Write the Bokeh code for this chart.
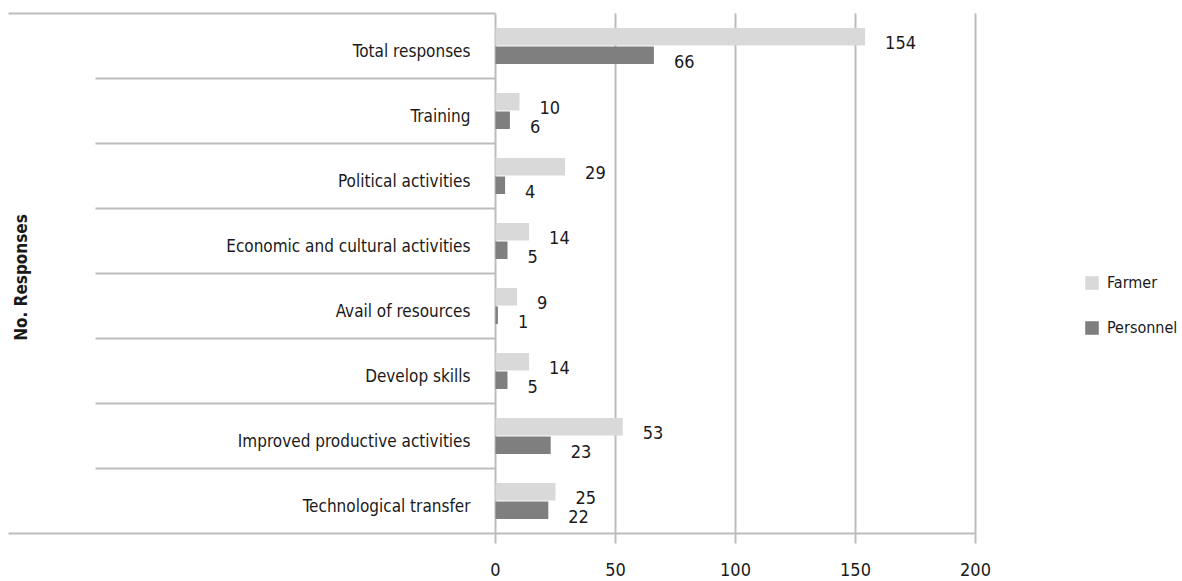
import math
from bokeh.plotting import figure
from bokeh.models import Range1d, Legend, LegendItem
from bokeh.core.properties import value
from bokeh.embed import file_html
from bokeh.resources import INLINE

# ---------------- data ----------------
categories = [
    "Total responses",
    "Training",
    "Political activities",
    "Economic and cultural activities",
    "Avail of resources",
    "Develop skills",
    "Improved productive activities",
    "Technological transfer",
]
farmer = [154, 10, 29, 14, 9, 14, 53, 25]
personnel = [66, 6, 4, 5, 1, 5, 23, 22]
series_names = ["Farmer", "Personnel"]
x_ticks = [0, 50, 100, 150, 200]
axis_title = "No. Responses"

# ---------------- style ----------------
FONT_NAME = "Noto Sans Condensed, Noto Sans SemiCondensed, DejaVu Sans Condensed, Roboto, sans-serif"
FONT = value(FONT_NAME)
TEXT = "#1a1a1a"
GRID = "#bdbdbd"
C_FARMER = "#d9d9d9"
C_PERS = "#7f7f7f"
FS_NUM = "18px"
FS_CAT = "17px"

W, H = 1182, 581
PX_X = 2.4            # pixels per value unit
ZERO_PX = 495         # distance of value 0 from figure left
LEFT_PX = 8           # where the outer lines start
SEP_PX = 400          # length of inner separator lines
PX_Y = 65             # pixels per category band
TOP_PX = 13           # distance of top band edge from figure top

n = len(categories)
x_min = -ZERO_PX / PX_X
x_max = (W - ZERO_PX) / PX_X
x_left = -(ZERO_PX - LEFT_PX) / PX_X
y_max = n + TOP_PX / PX_Y
y_min = y_max - H / PX_Y

p = figure(width=W, height=H, x_range=Range1d(x_min, x_max), y_range=Range1d(y_min, y_max),
           output_backend="svg", toolbar_location=None,
           x_axis_location=None, y_axis_location=None, min_border=0)
p.outline_line_color = None
p.grid.visible = False

centers = [n - i - 0.5 for i in range(n)]
bar_h = 0.27
off = 0.142
y_f = [c + off for c in centers]
y_p = [c - off for c in centers]

# vertical grid lines (value ticks)
p.segment(x0=x_ticks, y0=[0] * len(x_ticks), x1=x_ticks, y1=[n] * len(x_ticks),
          line_color=GRID, line_width=2)
# tick marks below baseline
p.ray(x=x_ticks, y=[0] * len(x_ticks), length=10, length_units="screen",
      angle=-math.pi / 2, line_color=GRID, line_width=2)
# baseline across the whole width
p.segment(x0=[x_left], y0=[0], x1=[max(x_ticks)], y1=[0], line_color=GRID, line_width=2)
# top line across the label area
p.segment(x0=[x_left], y0=[n], x1=[0], y1=[n], line_color=GRID, line_width=2)
# inner category separators
p.ray(x=[0] * (n - 1), y=list(range(1, n)), length=SEP_PX, length_units="screen",
      angle=math.pi, line_color=GRID, line_width=2)

# bars
r_f = p.hbar(y=y_f, left=0, right=farmer, height=bar_h, fill_color=C_FARMER, line_color=None)
r_p = p.hbar(y=y_p, left=0, right=personnel, height=bar_h, fill_color=C_PERS, line_color=None)

# value labels
p.text(x=farmer, y=y_f, text=[str(v) for v in farmer], x_offset=20, y_offset=6,
       text_align="left", text_baseline="middle", text_font=FONT, text_font_size=FS_NUM,
       text_color=TEXT)
p.text(x=personnel, y=y_p, text=[str(v) for v in personnel], x_offset=20, y_offset=6,
       text_align="left", text_baseline="middle", text_font=FONT, text_font_size=FS_NUM,
       text_color=TEXT)

# category labels
p.text(x=[0] * n, y=centers, text=categories, x_offset=-25, y_offset=5,
       text_align="right", text_baseline="middle", text_font=FONT, text_font_size=FS_CAT,
       text_color=TEXT)

# x tick labels
p.text(x=x_ticks, y=[0] * len(x_ticks), text=[str(t) for t in x_ticks], y_offset=36,
       text_align="center", text_baseline="middle", text_font=FONT, text_font_size=FS_NUM,
       text_color=TEXT)

# axis title
p.text(x=[x_min], y=[n / 2], text=[axis_title], x_offset=20, y_offset=4, angle=math.pi / 2,
       text_align="center", text_baseline="middle", text_font=FONT, text_font_size="17px",
       text_font_style="bold", text_color=TEXT)

legend = Legend(items=[LegendItem(label=series_names[0], renderers=[r_f]),
                       LegendItem(label=series_names[1], renderers=[r_p])],
                location=(1083, 238), glyph_width=17, glyph_height=17, label_height=31,
                spacing=14, padding=0, margin=0, label_standoff=7,
                border_line_alpha=0, background_fill_alpha=0,
                label_text_font=FONT_NAME, label_text_font_size="16px",
                label_text_color=TEXT)
p.add_layout(legend)

open("out.html", "w").write(file_html(p, INLINE))
